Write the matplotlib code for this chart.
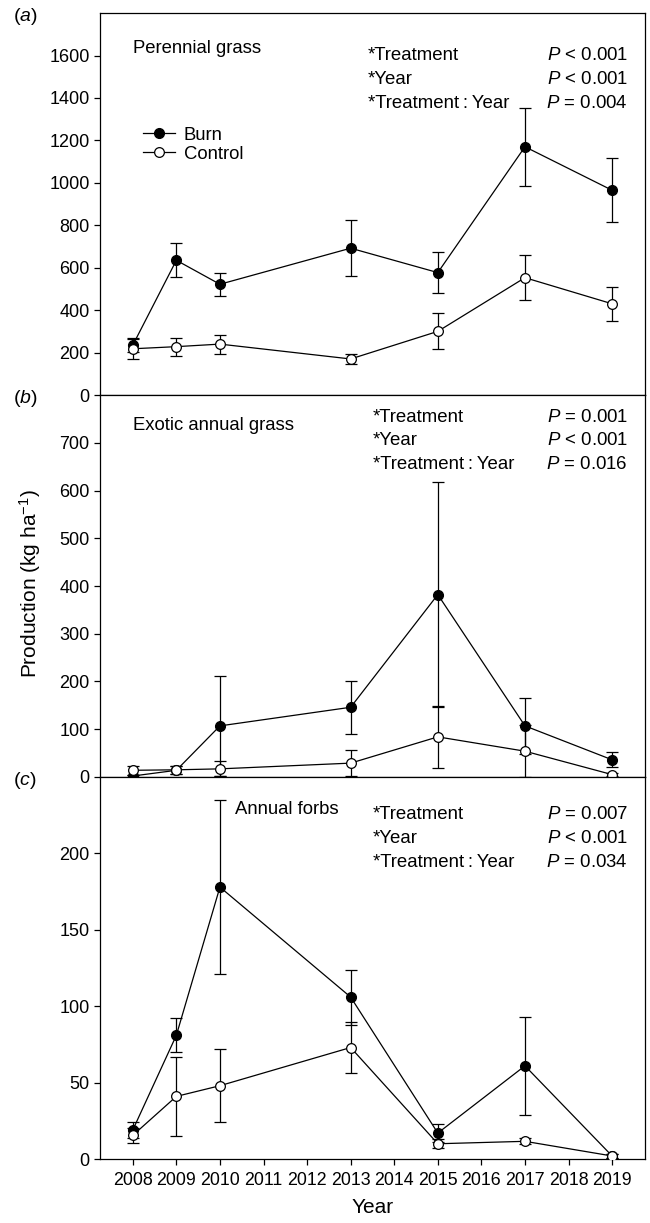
import matplotlib
matplotlib.use('Agg')
import matplotlib.pyplot as plt
from matplotlib.lines import Line2D
import numpy as np

plt.rcParams['font.family'] = ['Liberation Sans', 'DejaVu Sans']
plt.rcParams['mathtext.fontset'] = 'custom'
plt.rcParams['mathtext.rm'] = 'Liberation Sans'
plt.rcParams['mathtext.it'] = 'Liberation Sans:italic'
plt.rcParams['font.size'] = 13

years = [2008, 2009, 2010, 2013, 2015, 2017, 2019]
year_ticks = list(range(2008, 2020))

# (a) perennial grass
perennial_burn = [235, 635, 522, 692, 577, 1170, 965]
perennial_burn_se = [30, 80, 55, 133, 95, 185, 150]
perennial_ctrl = [218, 228, 240, 170, 300, 553, 430]
perennial_ctrl_se = [50, 42, 45, 22, 85, 105, 80]

# (b) exotic annual grass
exotic_burn = [2, 14, 107, 146, 382, 107, 36]
exotic_burn_se = [3, 8, 105, 55, 236, 58, 16]
exotic_ctrl = [14, 15, 17, 29, 84, 54, 5]
exotic_ctrl_se = [10, 8, 16, 28, 65, 55, 4]

# (c) annual forbs
forbs_burn = [19, 81, 178, 106, 17, 61, 2]
forbs_burn_se = [5, 11, 57, 18, 6, 32, 1]
forbs_ctrl = [15.5, 41, 48, 73, 10, 11.6, 2]
forbs_ctrl_se = [5, 26, 24, 17, 3, 2, 1]

titles = ['Perennial grass', 'Exotic annual grass', 'Annual forbs']
panel_labels = ['a', 'b', 'c']
stat_terms = ['*Treatment', '*Year', '*Treatment\u2009:\u2009Year']
stat_p = [['< 0.001', '< 0.001', '= 0.004'],
          ['= 0.001', '< 0.001', '= 0.016'],
          ['= 0.007', '< 0.001', '= 0.034']]

fig = plt.figure(figsize=(6.5, 12.23), dpi=100)
axh = 0.3123
bottoms = [0.677, 0.3647, 0.0523]
axes = [fig.add_axes([0.154, b, 0.838, axh]) for b in bottoms]

data = [
    (perennial_burn, perennial_burn_se, perennial_ctrl, perennial_ctrl_se),
    (exotic_burn, exotic_burn_se, exotic_ctrl, exotic_ctrl_se),
    (forbs_burn, forbs_burn_se, forbs_ctrl, forbs_ctrl_se),
]
ylims = [1800, 800, 250]
ysteps = [200, 100, 50]
ytops = [1600, 700, 200]
title_pos = [(0.061, 0.908), (0.061, 0.919), (0.248, 0.914)]
stat_x = [0.492, 0.501, 0.501]
stat_y = [[0.890, 0.827, 0.764], [0.942, 0.880, 0.817], [0.903, 0.840, 0.777]]

for i, ax in enumerate(axes):
    burn, burn_se, ctrl, ctrl_se = data[i]
    ax.errorbar(years, burn, yerr=burn_se, color='black', marker='o', ms=7,
                mfc='black', mec='black', lw=0.9, elinewidth=0.9, capsize=4,
                capthick=0.9, zorder=3)
    ax.errorbar(years, ctrl, yerr=ctrl_se, color='black', marker='o', ms=7,
                mfc='white', mec='black', mew=0.9, lw=0.9, elinewidth=0.9,
                capsize=4, capthick=0.9, zorder=4)
    ax.set_xlim(2007.25, 2019.75)
    ax.set_ylim(0, ylims[i])
    ax.set_yticks(np.arange(0, ytops[i] + 1, ysteps[i]))
    ax.tick_params(axis='y', direction='out', length=4, width=0.9, labelsize=13)
    ax.set_xticks(year_ticks)
    if i < 2:
        ax.tick_params(axis='x', bottom=False, labelbottom=False)
    else:
        ax.tick_params(axis='x', direction='out', length=4, width=0.9,
                       labelsize=12.8, pad=5)
        ax.set_xlabel('Year', fontsize=15, labelpad=7)
    for s in ax.spines.values():
        s.set_linewidth(0.9)
    ax.text(title_pos[i][0], title_pos[i][1], titles[i], transform=ax.transAxes,
            ha='left', va='center', fontsize=13.3)
    for j in range(3):
        ax.text(stat_x[i], stat_y[i][j], stat_terms[j], transform=ax.transAxes,
                ha='left', va='center', fontsize=13.4)
        ax.text(0.969, stat_y[i][j], '$P$ ' + stat_p[i][j], transform=ax.transAxes,
                ha='right', va='center', fontsize=13.4)
    fig.text(0.02, bottoms[i] + axh - 0.003, '($' + panel_labels[i] + '$)',
             ha='left', va='center', fontsize=14)

handles = [
    Line2D([], [], color='black', marker='o', ms=7, mfc='black', lw=0.9),
    Line2D([], [], color='black', marker='o', ms=7, mfc='white', mew=0.9, lw=0.9),
]
axes[0].legend(handles, ['Burn', 'Control'], loc='upper left',
               bbox_to_anchor=(0.079, 0.703), frameon=False,
               handlelength=1.75, handletextpad=0.45, labelspacing=0.12,
               borderaxespad=0, borderpad=0, fontsize=13.3)

fig.text(0.046, 0.523, 'Production (kg ha$^{\\mathrm{-1}}$)', rotation=90,
         ha='center', va='center', fontsize=15)

fig.savefig('out.png', dpi=100)
